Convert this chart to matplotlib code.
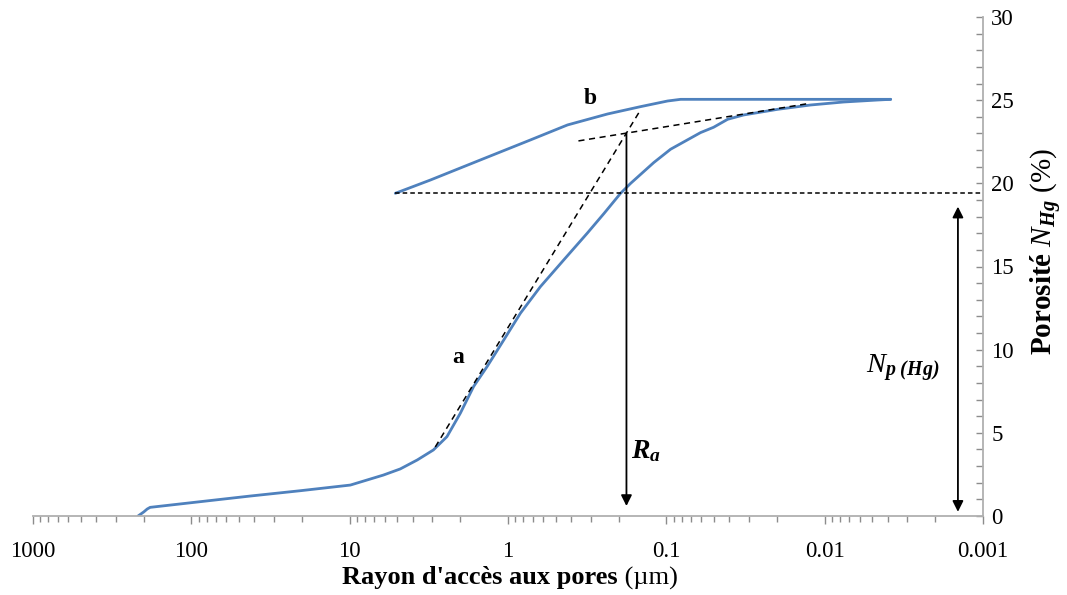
import matplotlib
matplotlib.use("Agg")
import matplotlib.pyplot as plt
from matplotlib.ticker import LogLocator, MultipleLocator, FixedFormatter, FixedLocator
from matplotlib.offsetbox import TextArea, HPacker, AnnotationBbox

plt.rcParams['font.family'] = ['Liberation Serif', 'DejaVu Serif']
plt.rcParams['mathtext.fontset'] = 'custom'
plt.rcParams['mathtext.rm'] = 'Liberation Serif'
plt.rcParams['mathtext.it'] = 'Liberation Serif:italic'
plt.rcParams['mathtext.bf'] = 'Liberation Serif:bold'
try:
    plt.rcParams['mathtext.bfit'] = 'Liberation Serif:italic:bold'
    BFIT = r'\mathbfit'
except KeyError:
    BFIT = r'\mathbf'

# intrusion curve (pore radius in um, porosity in %)
intr_r = [217, 200, 190, 182, 88, 42.5, 20.5, 9.9, 6.13, 4.79, 3.74, 2.96, 2.43,
          2.00, 1.65, 1.356, 1.064, 0.835, 0.624, 0.445, 0.316, 0.247, 0.1946,
          0.168, 0.12, 0.094, 0.0608, 0.0503, 0.0410, 0.0325, 0.0198, 0.01227,
          0.00759, 0.00462, 0.00383]
intr_p = [0.0, 0.24, 0.42, 0.52, 0.86, 1.20, 1.52, 1.86, 2.46, 2.83, 3.37, 3.97, 4.77,
          6.18, 7.78, 8.98, 10.58, 12.19, 13.79, 15.39, 17.0, 18.2, 19.4,
          20.0, 21.25, 22.05, 23.05, 23.37, 23.85, 24.11, 24.45, 24.71,
          24.89, 25.01, 25.05]

# extrusion curve
extr_r = [0.00383, 0.0812, 0.0982, 0.1456, 0.235, 0.421, 0.721, 1.49, 3.09, 5.15]
extr_p = [25.05, 25.05, 24.95, 24.61, 24.17, 23.51, 22.61, 21.41, 20.2, 19.4]

# tangents and markers
tan_a_r = [2.88, 0.148]
tan_a_p = [4.15, 24.3]
tan_b_r = [0.359, 0.0126]
tan_b_p = [22.55, 24.8]
resid_r = [5.15, 0.001]
resid_p = [19.4, 19.4]
ra_r, ra_top, ra_bot = 0.1786, 23.0, 0.6
np_r, np_top, np_bot = 0.00144, 18.6, 0.25

xticks = [1000, 100, 10, 1, 0.1, 0.01, 0.001]
xticklabels = ['1000', '100', '10', '1', '0.1', '0.01', '0.001']

blue = '#4F81BD'
grey = '#8C8C8C'

fig = plt.figure(figsize=(10.67, 5.95), dpi=100)
ax = fig.add_axes([33/1067, 1-516/595, (983-33)/1067, (516-17)/595])

ax.plot(intr_r, intr_p, color=blue, lw=2.0, solid_capstyle='round', solid_joinstyle='round')
ax.plot(extr_r, extr_p, color=blue, lw=2.0, solid_capstyle='round', solid_joinstyle='round')
ax.plot(tan_a_r, tan_a_p, color='black', lw=1.1, ls=(0, (4, 3)))
ax.plot(tan_b_r, tan_b_p, color='black', lw=1.1, ls=(0, (4, 3)))
ax.plot(resid_r, resid_p, color='black', lw=1.1, ls=(0, (3, 2)))

ax.annotate('', xy=(ra_r, ra_bot), xytext=(ra_r, ra_top),
            arrowprops=dict(arrowstyle='-|>', color='black', lw=1.3,
                            mutation_scale=16, shrinkA=0, shrinkB=0))
ax.annotate('', xy=(np_r, np_bot), xytext=(np_r, np_top),
            arrowprops=dict(arrowstyle='<|-|>', color='black', lw=1.3,
                            mutation_scale=16, shrinkA=0, shrinkB=0))

ax.text(2.05, 9.5, 'a', fontsize=17, fontweight='bold', ha='center', va='center')
ax.text(0.30, 25.1, 'b', fontsize=17, fontweight='bold', ha='center', va='center')
ax.text(0.135, 3.9, r'$' + BFIT + r'{R_a}$', fontsize=20, ha='center', va='center')
ax.text(0.0032, 8.9, r'$N_{' + BFIT + r'{p\ (Hg)}}$', fontsize=20.5, ha='center', va='center')

ax.set_xscale('log')
ax.set_xlim(1000, 0.001)
ax.set_ylim(0, 30)

ax.xaxis.set_major_locator(FixedLocator(xticks))
ax.xaxis.set_major_formatter(FixedFormatter(xticklabels))
ax.xaxis.set_minor_locator(LogLocator(base=10, subs=range(2, 10), numticks=20))
ax.tick_params(axis='x', which='major', direction='out', length=6, width=1,
               color=grey, labelsize=16.5, pad=12)
ax.tick_params(axis='x', which='minor', direction='out', length=4, width=1, color=grey)

ax.yaxis.tick_right()
ax.yaxis.set_major_locator(MultipleLocator(5))
ax.yaxis.set_minor_locator(MultipleLocator(1))
ax.tick_params(axis='y', which='major', direction='in', length=5, width=1,
               color=grey, labelsize=16.5, pad=6)
ax.tick_params(axis='y', which='minor', direction='in', length=5, width=1, color=grey)

for s in ['left', 'top']:
    ax.spines[s].set_visible(False)
for s in ['right', 'bottom']:
    ax.spines[s].set_color('#B0B0B0')
    ax.spines[s].set_linewidth(1.3)

# x label: bold part + normal unit
xl = HPacker(children=[TextArea("Rayon d'accès aux pores",
                                textprops=dict(fontsize=19, fontweight='bold')),
                       TextArea(" (µm)", textprops=dict(fontsize=19))],
             align='baseline', pad=0, sep=0)
ab = AnnotationBbox(xl, (510/1067, 1-578/595), xycoords='figure fraction',
                    frameon=False, box_alignment=(0.5, 0.5))
fig.add_artist(ab)

fig.text(1046/1067, 1-252/595,
         r'$\mathbf{Porosité}\ N_{' + BFIT + r'{Hg}}$ (%)',
         rotation=90, fontsize=21, ha='center', va='center')

fig.savefig('out.png', dpi=100)
